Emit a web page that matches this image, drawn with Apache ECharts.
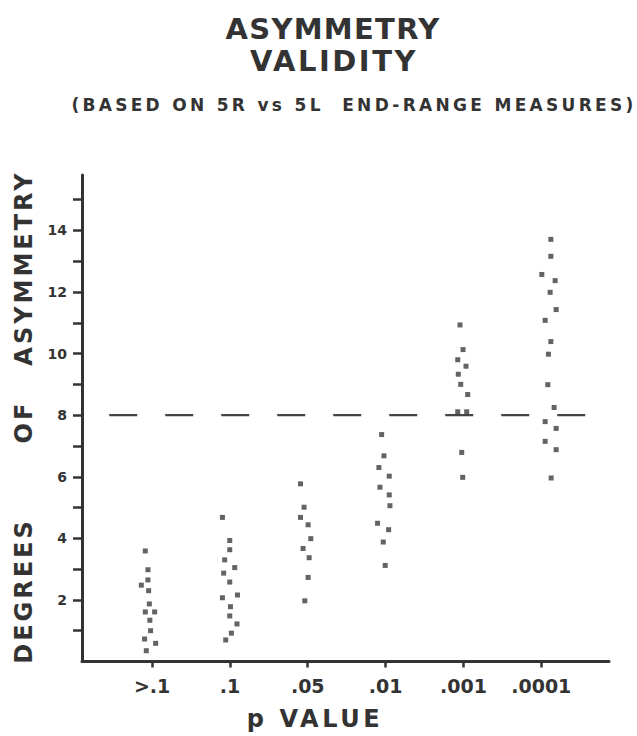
<!DOCTYPE html>
<html>
<head>
<meta charset="utf-8">
<title>Asymmetry validity</title>
<script src="https://cdn.jsdelivr.net/npm/echarts@6/dist/echarts.min.js"></script>
<style>
  html, body { margin: 0; padding: 0; background: #fff; }
  #chart { width: 637px; height: 736px; }
</style>
</head>
<body>
<div id="chart"></div>
<script>
// p value categories, placed at x = 1..6
var pLabels = ['>.1', '.1', '.05', '.01', '.001', '.0001'];
var xTicks = [1, 2, 3, 4, 5, 6];
var yTicks = [1, 2, 3, 4, 5, 6, 7, 8, 9, 10, 11, 12, 13, 14, 15];
var yLabels = [2, 4, 6, 8, 10, 12, 14];

// reference level (dashed line)
var refLevel = 8;
var refSpan = [0.45, 6.69];

// degrees of asymmetry, one array per p group (x = column position incl. scatter)
var gt1X = [0.913, 0.947, 0.947, 0.862, 0.956, 0.965, 0.913, 1.033, 0.972, 0.981, 0.904, 1.046, 0.926];
var gt1Y = [3.59, 2.98, 2.65, 2.48, 2.30, 1.87, 1.61, 1.61, 1.34, 1.00, 0.73, 0.59, 0.35];

var p10X = [1.904, 1.998, 1.998, 1.933, 2.062, 1.920, 1.998, 1.904, 2.097, 2.007, 1.998, 2.091, 2.019, 1.946];
var p10Y = [4.68, 3.93, 3.63, 3.30, 3.05, 2.87, 2.58, 2.07, 2.16, 1.78, 1.48, 1.22, 0.92, 0.70];

var p05X = [2.907, 2.953, 2.907, 3.005, 3.039, 2.940, 3.018, 3.005, 2.962];
var p05Y = [5.77, 5.01, 4.68, 4.44, 3.99, 3.67, 3.37, 2.73, 1.97];

var p01X = [3.949, 3.979, 3.914, 4.047, 3.927, 4.047, 4.056, 3.897, 4.039, 3.970, 3.995];
var p01Y = [7.37, 6.68, 6.30, 6.02, 5.66, 5.41, 5.06, 4.49, 4.28, 3.88, 3.12];

var p001X = [4.956, 4.995, 4.927, 5.033, 4.934, 4.965, 5.055, 4.927, 5.042, 4.978, 4.991];
var p001Y = [10.93, 10.13, 9.80, 9.59, 9.33, 9.00, 8.67, 8.11, 8.11, 6.79, 5.98];

var p0001X = [6.123, 6.123, 6.007, 6.178, 6.114, 6.191, 6.050, 6.123, 6.092, 6.084, 6.165, 6.050, 6.191, 6.050, 6.191, 6.127];
var p0001Y = [13.71, 13.16, 12.57, 12.37, 11.99, 11.43, 11.08, 10.39, 9.98, 8.99, 8.25, 7.79, 7.57, 7.15, 6.88, 5.96];

var groups = [
  [gt1X, gt1Y], [p10X, p10Y], [p05X, p05Y],
  [p01X, p01Y], [p001X, p001Y], [p0001X, p0001Y]
];

var ink = '#333';
var face = '"DejaVu Sans", "Liberation Sans", sans-serif';

function pairs(xs, ys) {
  return xs.map(function (x, i) { return [x, ys[i]]; });
}

var series = groups.map(function (g, i) {
  return {
    name: pLabels[i],
    type: 'scatter',
    symbol: 'rect',
    symbolSize: 5,
    itemStyle: { color: '#3c3c3c' },
    data: pairs(g[0], g[1])
  };
});

// dashed line at 8 degrees
series.push({
  type: 'line',
  symbol: 'none',
  silent: true,
  lineStyle: { color: '#444', width: 2.2, type: [28, 28] },
  data: refSpan.map(function (x) { return [x, refLevel]; })
});

function yWord(text, y) {
  return {
    type: 'text', x: 24, y: y, rotation: Math.PI / 2,
    style: {
      text: text, fill: ink, font: 'bold 24px ' + face,
      textAlign: 'center', align: 'center',
      textVerticalAlign: 'middle', verticalAlign: 'middle'
    }
  };
}

function label(text, x, y, size) {
  return {
    type: 'text', x: x, y: y,
    style: {
      text: text, fill: ink, font: 'bold ' + size + 'px ' + face,
      textAlign: 'center', align: 'center',
      textVerticalAlign: 'middle', verticalAlign: 'middle'
    }
  };
}

var chart = echarts.init(document.getElementById('chart'), null, { renderer: 'svg' });

var option = {
  animation: false,
  backgroundColor: '#fff',
  grid: { left: 82, right: 28, top: 175, bottom: 74.5 },
  xAxis: {
    type: 'value',
    min: 0.1,
    max: 6.87,
    splitLine: { show: false },
    axisLine: { onZero: false, lineStyle: { color: ink, width: 3 } },
    axisTick: { customValues: xTicks, length: 6, lineStyle: { color: ink, width: 2.5 } },
    axisLabel: {
      customValues: xTicks,
      margin: 15,
      color: ink,
      fontFamily: face,
      fontWeight: 'bold',
      fontSize: 19,
      formatter: function (v) { return pLabels[Math.round(v) - 1]; }
    }
  },
  yAxis: {
    type: 'value',
    min: 0,
    max: 15.8,
    splitLine: { show: false },
    axisLine: { onZero: false, lineStyle: { color: ink, width: 3 } },
    axisTick: { customValues: yTicks, length: 9, lineStyle: { color: ink, width: 2.5 } },
    axisLabel: {
      customValues: yLabels,
      margin: 15,
      color: ink,
      fontFamily: face,
      fontWeight: 'bold',
      fontSize: 14
    }
  },
  graphic: [
    label('ASYMMETRY', 333, 28.5, 29),
    label('VALIDITY', 334, 61, 29),
    label('(BASED ON 5R vs 5L  END-RANGE MEASURES)', 354, 104.5, 17),
    label('p VALUE', 315, 719, 24),
    yWord('DEGREES', 591),
    yWord('OF', 422),
    yWord('ASYMMETRY', 268)
  ],
  series: series
};

chart.setOption(option);

// the lettering in the original is spread out; widen it in the svg output
var spread = {
  'ASYMMETRY|29': 1.3, 'VALIDITY|29': 2.5, '(BASED ON 5R vs 5L  END-RANGE MEASURES)|17': 3.3,
  'p VALUE|24': 3.6, 'DEGREES|24': 3, 'OF|24': 3, 'ASYMMETRY|24': 3
};
function spreadText() {
  var nodes = document.querySelectorAll('#chart text');
  nodes.forEach(function (t) {
    var size = Math.round(parseFloat(getComputedStyle(t).fontSize));
    var key = t.textContent + '|' + size;
    if (spread[key]) t.setAttribute('letter-spacing', spread[key]);
  });
}
chart.on('finished', spreadText);
spreadText();
</script>
</body>
</html>
